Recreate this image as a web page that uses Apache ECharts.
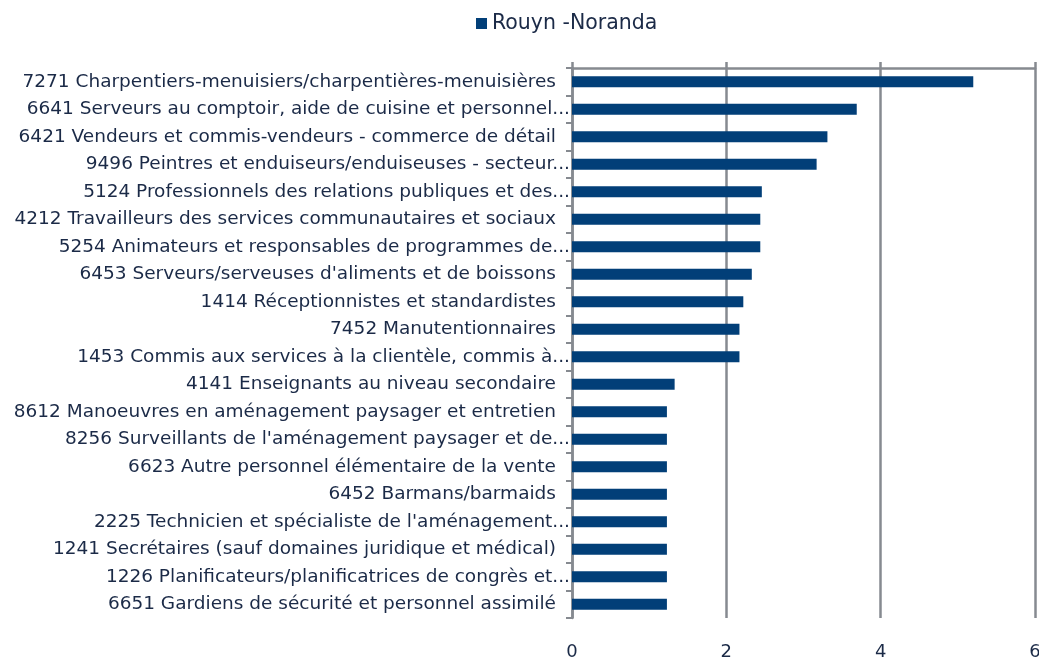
<!DOCTYPE html>
<html>
<head>
<meta charset="utf-8">
<script src="https://cdn.jsdelivr.net/npm/echarts@6/dist/echarts.min.js"></script>
<style>
  html, body { margin: 0; padding: 0; background: #fff; overflow: hidden; }
  #chart { width: 1039px; height: 658px; }
</style>
</head>
<body>
<div id="chart"></div>
<script>
var seriesName = 'Rouyn -Noranda'
var categories = [
  '7271 Charpentiers-menuisiers/charpentières-menuisières',
  '6641 Serveurs au comptoir, aide de cuisine et personnel...',
  '6421 Vendeurs et commis-vendeurs - commerce de détail',
  '9496 Peintres et enduiseurs/enduiseuses - secteur...',
  '5124 Professionnels des relations publiques et des...',
  '4212 Travailleurs des services communautaires et sociaux',
  '5254 Animateurs et responsables de programmes de...',
  "6453 Serveurs/serveuses d'aliments et de boissons",
  '1414 Réceptionnistes et standardistes',
  '7452 Manutentionnaires',
  '1453 Commis aux services à la clientèle, commis à...',
  '4141 Enseignants au niveau secondaire',
  '8612 Manoeuvres en aménagement paysager et entretien',
  "8256 Surveillants de l'aménagement paysager et de...",
  '6623 Autre personnel élémentaire de la vente',
  '6452 Barmans/barmaids',
  "2225 Technicien et spécialiste de l'aménagement...",
  '1241 Secrétaires (sauf domaines juridique et médical)',
  '1226 Planificateurs/planificatrices de congrès et...',
  '6651 Gardiens de sécurité et personnel assimilé'
]
var values = [5.2, 3.69, 3.31, 3.17, 2.46, 2.44, 2.44, 2.33, 2.22, 2.17, 2.17, 1.33, 1.23, 1.23, 1.23, 1.23, 1.23, 1.23, 1.23, 1.23]
var xTicks = [0, 2, 4, 6]

var myChart = echarts.init(document.getElementById('chart'))
var gray = '#868a90'
var textColor = '#1b2a47'
var font = 'DejaVu Sans'

var option = {
  animation: false,
  color: ['#023f78'],
  textStyle: { fontFamily: font },
  legend: {
    data: [seriesName],
    left: 471,
    top: 8,
    icon: 'rect',
    itemWidth: 11,
    itemHeight: 11,
    itemGap: 6,
    textStyle: { color: textColor, fontSize: 20.5, fontFamily: font }
  },
  grid: { left: 572, right: 4, top: 68, bottom: 40, containLabel: false, outerBoundsMode: 'none' },
  xAxis: [
    {
      type: 'value',
      min: xTicks[0],
      max: xTicks[xTicks.length - 1],
      interval: 2,
      position: 'bottom',
      axisLine: { show: false },
      axisTick: { show: false },
      axisLabel: { color: textColor, fontSize: 18, fontFamily: font, margin: 25 },
      splitLine: { show: true, lineStyle: { color: gray, width: 2.5 } }
    },
    {
      type: 'value',
      min: xTicks[0],
      max: xTicks[xTicks.length - 1],
      interval: 2,
      position: 'top',
      axisLine: { show: true, lineStyle: { color: gray, width: 2.5 } },
      axisTick: { show: true, length: 6, lineStyle: { color: gray, width: 2.5 } },
      axisLabel: { show: false },
      splitLine: { show: false }
    }
  ],
  yAxis: {
    type: 'category',
    inverse: true,
    data: categories,
    axisLine: { show: true, lineStyle: { color: gray, width: 2.5 } },
    axisTick: { show: true, length: 6, lineStyle: { color: gray, width: 2 } },
    axisLabel: {
      margin: 2,
      formatter: function (v) {
        return v.slice(-3) === '...' ? '{t|' + v + '}' : '{f|' + v + '}'
      },
      rich: {
        t: { color: textColor, fontSize: 18.5, fontFamily: font },
        f: { color: textColor, fontSize: 18.5, fontFamily: font, padding: [0, 14, 0, 0] }
      }
    }
  },
  series: [
    {
      name: seriesName,
      type: 'bar',
      xAxisIndex: 0,
      data: values,
      barWidth: '40%'
    }
  ]
}
myChart.setOption(option)
</script>
</body>
</html>
